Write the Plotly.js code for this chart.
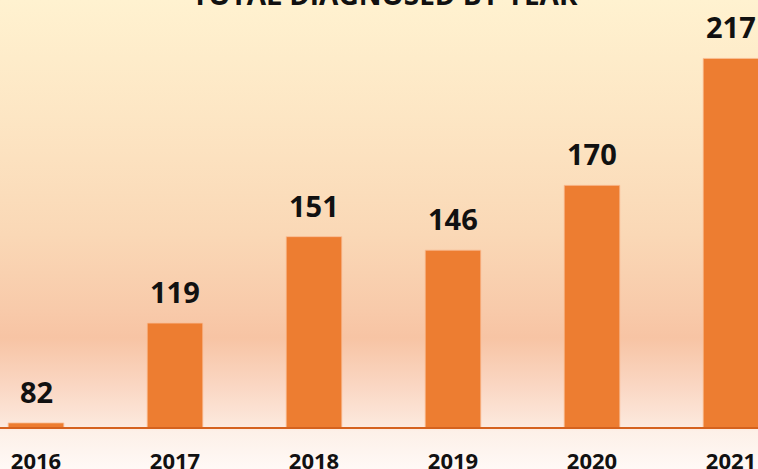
<!DOCTYPE html>
<html>
<head>
<meta charset="utf-8">
<script src="https://cdn.plot.ly/plotly-3.0.1.min.js"></script>
<style>
  html, body { margin: 0; padding: 0; }
  #chart {
    width: 758px; height: 469px;
    background: linear-gradient(to bottom,
      #FFF2D0 0%, #FDE6C4 25%, #FAD8B6 50%, #F8CAAA 66%, #F7C4A4 72%,
      #FAD6C2 82%, #FCE8DC 90.5%, #FDF0E8 92%, #FFF9F6 100%);
  }
</style>
</head>
<body>
<div id="chart"></div>
<script>
const years = ['2016', '2017', '2018', '2019', '2020', '2021'];
const diagnosed = [82, 119, 151, 146, 170, 217];
const chartTitle = 'TOTAL DIAGNOSED BY YEAR';

const FONT = '"Open Sans", "Liberation Sans", sans-serif';

const bars = {
  type: 'bar',
  x: years,
  y: diagnosed,
  width: 0.40,
  marker: { color: '#ED7D31', line: { color: 'rgba(250,190,150,0.8)', width: 1 } },
  hoverinfo: 'x+y'
};

const valueLabels = years.map((yr, i) => ({
  x: i, y: diagnosed[i], xref: 'x', yref: 'y',
  text: String(diagnosed[i]),
  showarrow: false, xanchor: 'center', yanchor: 'bottom', yshift: 10,
  font: { family: FONT, size: 29, color: '#111111', weight: 'bold' }
}));

const titleAnn = {
  x: 385 / 758, y: 1, xref: 'paper', yref: 'paper',
  text: chartTitle, showarrow: false,
  xanchor: 'center', yanchor: 'bottom', yshift: -15,
  font: { family: FONT, size: 28, color: '#111111', weight: 'bold' }
};

const layout = {
  width: 758, height: 469,
  margin: { l: 0, r: 0, t: 0, b: 42, pad: 0 },
  paper_bgcolor: 'rgba(0,0,0,0)',
  plot_bgcolor: 'rgba(0,0,0,0)',
  showlegend: false,
  xaxis: {
    type: 'category',
    range: [-36 / 139, (758 - 36) / 139],
    showgrid: false, zeroline: false,
    showline: true, linecolor: '#D5621E', linewidth: 2,
    ticks: '', ticklabelstandoff: 14,
    tickfont: { family: FONT, size: 22, color: '#111111', weight: 'bold' },
    fixedrange: true
  },
  yaxis: {
    range: [80.5, 80.5 + 427 / 2.7],
    showticklabels: false, showgrid: false, zeroline: false, showline: false, ticks: '',
    fixedrange: true
  },
  annotations: [titleAnn].concat(valueLabels)
};

Plotly.newPlot('chart', [bars], layout, { displayModeBar: false, staticPlot: true });
</script>
</body>
</html>
